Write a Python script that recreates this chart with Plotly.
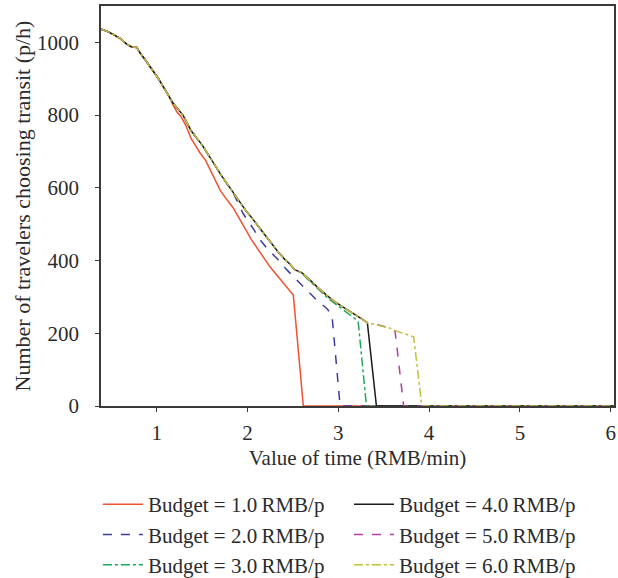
import plotly.graph_objects as go

# ---- data ----
# common part of the curves (value of time, travellers choosing transit)
BASE_VOT = [0.39, 0.45, 0.52, 0.60, 0.67, 0.72, 0.78, 0.82, 0.88, 0.95, 1.02, 1.08,
            1.13, 1.18, 1.24, 1.29, 1.33, 1.38, 1.44, 1.50, 1.55, 1.60, 1.66, 1.71,
            1.76, 1.81, 1.86, 1.92, 1.98, 2.04, 2.10, 2.16, 2.22, 2.28, 2.34, 2.40,
            2.46, 2.52, 2.56, 2.60, 2.65, 2.72, 2.80, 2.88, 2.96, 3.04, 3.12, 3.20,
            3.28, 3.32]
BASE_TRANSIT = [1036, 1031, 1022, 1010, 995, 988, 986, 970, 950, 925, 900, 875,
                855, 833, 815, 800, 780, 757, 737, 718, 698, 680, 655, 635,
                617, 599, 578, 556, 538, 520, 500, 482, 460, 442, 423, 406,
                392, 375, 370, 366, 355, 338, 320, 303, 287, 274, 262, 248,
                236, 229]

# where each budget curve leaves the common curve, and its own tail
SPLIT_VOT = [1.13, 1.86, 2.60, 3.32, 3.32, 3.32]
TAIL_VOT = [
    [1.18, 1.22, 1.27, 1.32, 1.38, 1.48, 1.54, 1.59, 1.65, 1.70, 1.75, 1.79,
     1.84, 1.90, 1.97, 2.04, 2.11, 2.18, 2.25, 2.32, 2.40, 2.46, 2.505, 2.615, 6.04],
    [1.95, 2.00, 2.07, 2.14, 2.22, 2.32, 2.42, 2.54, 2.65, 2.76, 2.87, 2.93, 3.02, 6.04],
    [2.65, 2.72, 2.80, 2.88, 2.96, 3.04, 3.12, 3.18, 3.22, 3.31, 6.04],
    [3.42, 6.04],
    [3.40, 3.48, 3.56, 3.625, 3.72, 6.04],
    [3.40, 3.48, 3.56, 3.62, 3.70, 3.78, 3.83, 3.92, 6.04],
]
TAIL_TRANSIT = [
    [828, 810, 795, 772, 735, 695, 675, 650, 620, 593, 575, 562,
     546, 520, 488, 459, 433, 407, 382, 361, 337, 319, 305, 0, 0],
    [530, 512, 485, 457, 432, 407, 378, 347, 318, 292, 269, 251, 0, 0],
    [352, 335, 316, 298, 282, 268, 254, 241, 230, 0, 0],
    [0, 0],
    [225, 221, 214, 206, 0, 0],
    [225, 221, 215, 208, 201, 195, 190, 0, 0],
]
NAMES = ["Budget = 1.0\u2009RMB/p", "Budget = 2.0\u2009RMB/p", "Budget = 3.0\u2009RMB/p",
         "Budget = 4.0\u2009RMB/p", "Budget = 5.0\u2009RMB/p", "Budget = 6.0\u2009RMB/p"]
COLORS = ["#F0502D", "#3D3C9F", "#20A85A", "#1A1A1A", "#B23DAA", "#BFC23A"]
DASHES = ["solid", "dash", "dashdot", "solid", "dash", "dashdot"]
LEGENDS = ["legend", "legend", "legend", "legend2", "legend2", "legend2"]

X_TICKS = [1, 2, 3, 4, 5, 6]
Y_TICKS = [0, 200, 400, 600, 800, 1000]

FONT = "Liberation Serif"
TXT = "#2b2b2b"

fig = go.Figure()
for i in range(6):
    xs = [v for v in BASE_VOT if v <= SPLIT_VOT[i]]
    ys = BASE_TRANSIT[:len(xs)]
    fig.add_trace(go.Scatter(
        x=xs + TAIL_VOT[i], y=ys + TAIL_TRANSIT[i], mode="lines", name=NAMES[i],
        line=dict(color=COLORS[i], width=1.5, dash=DASHES[i]),
        legend=LEGENDS[i]))

axis_common = dict(showline=True, linecolor="#3a3a3a", linewidth=1.5, mirror=True,
                   ticks="outside", ticklen=4, tickwidth=1.2, tickcolor="#3a3a3a",
                   showgrid=False, zeroline=False, layer="below traces", automargin=False,
                   tickfont=dict(family=FONT, size=21, color=TXT))

legend_common = dict(y=-0.195, xanchor="left", yanchor="top", orientation="v",
                     font=dict(family=FONT, size=21, color=TXT), bgcolor="rgba(0,0,0,0)",
                     tracegroupgap=0, itemwidth=40)

fig.update_layout(
    width=618, height=578,
    margin=dict(l=101, r=4, t=6, b=172, autoexpand=False),
    paper_bgcolor="white", plot_bgcolor="white",
    font=dict(family=FONT, color=TXT),
    xaxis=dict(range=[0.387, 6.036], tickvals=X_TICKS, ticklabelstandoff=3,
               title=dict(text="Value of time (RMB/min)", font=dict(family=FONT, size=21, color=TXT),
                          standoff=6),
               **axis_common),
    yaxis=dict(range=[0, 1100], tickvals=Y_TICKS, ticklabelstandoff=12,
               title=dict(text="Number of travelers choosing transit (p/h)",
                          font=dict(family=FONT, size=22, color=TXT), standoff=0),
               **axis_common),
    legend=dict(x=-0.006, **legend_common),
    legend2=dict(x=0.4834, **legend_common),
)

fig.write_html("out.html", config={"displayModeBar": False},
               post_script="document.body.style.margin='0';")
